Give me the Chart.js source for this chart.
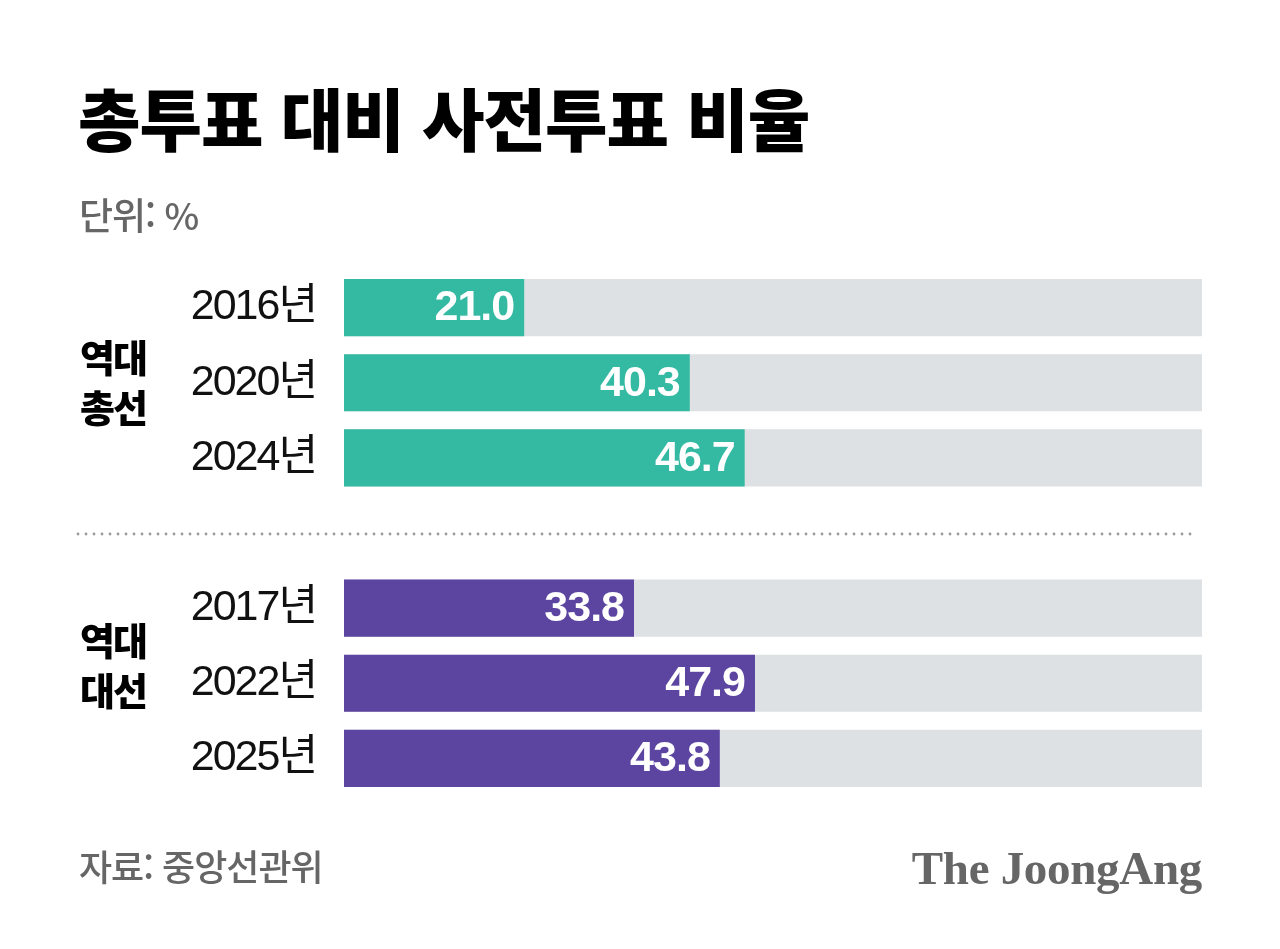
<!DOCTYPE html>
<html lang="ko">
<head>
<meta charset="utf-8">
<title>총투표 대비 사전투표 비율</title>
<script src="https://cdn.jsdelivr.net/npm/chart.js@4"></script>
<style>
  html, body { margin: 0; padding: 0; background: #fff; }
  #wrap { position: relative; width: 1280px; height: 949px; overflow: hidden; }
  #chart { position: absolute; left: 0; top: 0; }
  .txt { position: absolute; white-space: nowrap; font-family: "Noto Sans CJK KR", "Noto Sans", sans-serif; }
  #title { left: 78px; top: 72px; font-size: 68px; font-weight: 900; color: #000; letter-spacing: -1px; line-height: 90px; }
  #unit { left: 79px; top: 189px; font-size: 37px; font-weight: 500; color: #666; line-height: 50px; letter-spacing: -1px; }
  .group { left: 80px; font-size: 38px; font-weight: 900; color: #000; line-height: 50px; letter-spacing: -2px; }
  #source { left: 79px; top: 840px; font-size: 36px; font-weight: 500; color: #666; line-height: 50px; letter-spacing: -1px; }
  #logo { right: 78px; top: 838px; font-family: "Liberation Serif", "DejaVu Serif", serif; font-size: 47px; font-weight: 700; color: #666; line-height: 60px; letter-spacing: -0.3px; }
</style>
</head>
<body>
<div id="wrap">
  <canvas id="chart" width="1280" height="949"></canvas>
  <div class="txt" id="title">총투표 대비 사전투표 비율</div>
  <div class="txt" id="unit">단위: %</div>
  <div class="txt group" style="top:331px">역대<br>총선</div>
  <div class="txt group" style="top:614px">역대<br>대선</div>
  <div class="txt" id="source">자료: 중앙선관위</div>
  <div class="txt" id="logo">The JoongAng</div>
</div>
<script>
// rows, with an empty row between the two groups
const years = ['2016년', '2020년', '2024년', '', '2017년', '2022년', '2025년'];
const generalElection = [21.0, 40.3, 46.7];      // 역대 총선
const presidentialElection = [33.8, 47.9, 43.8]; // 역대 대선
const fullScale = [100, 100, 100, null, 100, 100, 100];

const teal = '#34b9a2';
const purple = '#5c45a0';
const track = '#dde1e4';

const values = [...generalElection, null, ...presidentialElection];
const barColors = [
  ...generalElection.map(() => teal), 'rgba(0,0,0,0)',
  ...presidentialElection.map(() => purple)
];

// tighter letters for the year ticks (set before the scales draw)
const tightTicks = {
  id: 'tightTicks',
  beforeDraw(chart) { chart.ctx.letterSpacing = '-2px'; },
  afterDraw(chart) { chart.ctx.letterSpacing = '0px'; }
};

// value text inside bar ends + dotted divider on the empty row
const extras = {
  id: 'extras',
  afterDatasetsDraw(chart) {
    const ctx = chart.ctx;
    const meta = chart.getDatasetMeta(0);
    ctx.save();
    ctx.fillStyle = '#fff';
    ctx.font = 'bold 43px "Liberation Sans", Arial, sans-serif';
    ctx.letterSpacing = '-1px';
    ctx.textAlign = 'right';
    ctx.textBaseline = 'middle';
    meta.data.forEach((bar, i) => {
      if (values[i] == null) return;
      ctx.fillText(values[i].toFixed(1), bar.x - 10, bar.y + 1);
    });

    // dotted separator
    const y = chart.scales.y.getPixelForValue(3) + 1;
    ctx.fillStyle = '#9a9a9a';
    for (let x = 78; x <= 1192; x += 8) {
      ctx.beginPath();
      ctx.arc(x, y, 1.4, 0, Math.PI * 2);
      ctx.fill();
    }
    ctx.restore();
  }
};

const ctx = document.getElementById('chart');

new Chart(ctx, {
  type: 'bar',
  data: {
    labels: years,
    datasets: [
      {
        label: '사전투표 비율',
        data: values,
        backgroundColor: barColors,
        grouped: false,
        order: 0,
        barPercentage: 0.76,
        categoryPercentage: 1
      },
      {
        label: 'track',
        data: fullScale,
        backgroundColor: track,
        grouped: false,
        order: 1,
        barPercentage: 0.76,
        categoryPercentage: 1
      }
    ]
  },
  options: {
    indexAxis: 'y',
    responsive: false,
    animation: false,
    layout: {
      padding: { left: 0, right: 78, top: 270, bottom: 153 }
    },
    plugins: {
      legend: { display: false },
      tooltip: { enabled: false }
    },
    scales: {
      x: {
        display: false,
        min: 0,
        max: 100
      },
      y: {
        afterFit(axis) { axis.width = 344; },
        grid: { display: false, drawTicks: false },
        border: { display: false },
        ticks: {
          padding: 28,
          color: '#111',
          font: { family: '"Liberation Sans", "Noto Sans CJK KR", sans-serif', size: 43 }
        }
      }
    }
  },
  plugins: [tightTicks, extras]
});
</script>
</body>
</html>
